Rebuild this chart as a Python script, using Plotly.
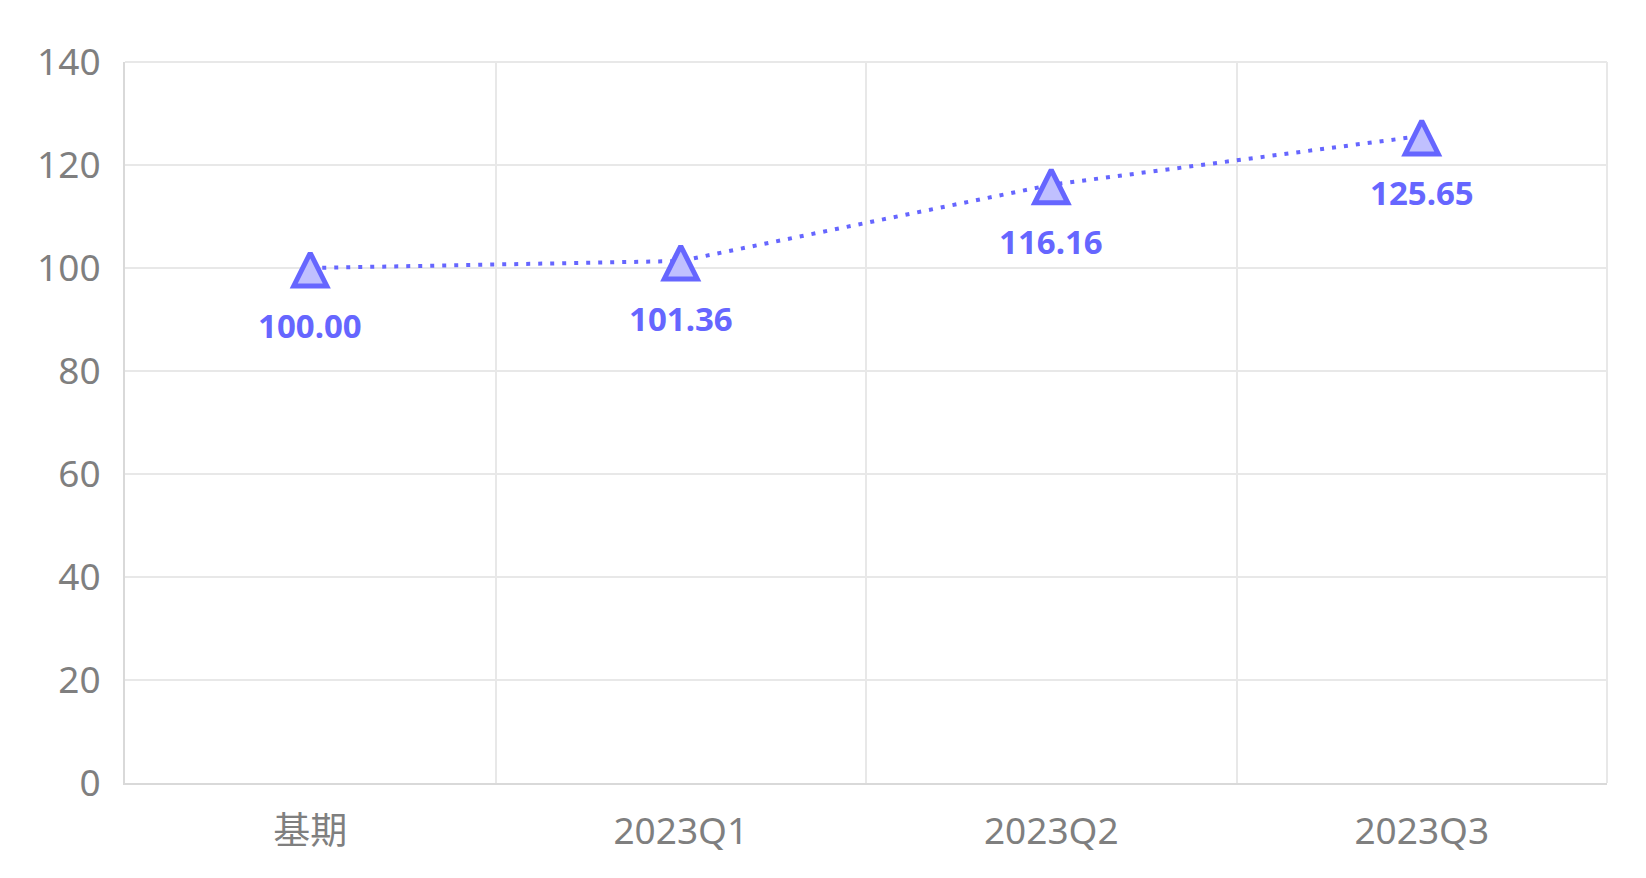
import plotly.graph_objects as go

categories = ["基期", "2023Q1", "2023Q2", "2023Q3"]
values = [100.00, 101.36, 116.16, 125.65]
labels = ["100.00", "101.36", "116.16", "125.65"]
y_ticks = [0, 20, 40, 60, 80, 100, 120, 140]

LINE = "#6666ff"
FILL = "#c0c0ff"
GRID = "#e8e8e8"
AXIS = "#d9d9d9"
TXT = "#7f7f7f"
FONT = "Noto Sans, Noto Sans CJK SC, sans-serif"

fig = go.Figure()
fig.add_trace(go.Scatter(
    x=categories, y=values, mode="lines",
    line=dict(color=LINE, width=4, dash="4px,8px"),
    hoverinfo="skip", showlegend=False,
))
fig.add_trace(go.Scatter(
    x=categories, y=values, mode="markers",
    marker=dict(symbol="arrow-down", size=33, color=FILL, angle=180, standoff=15,
                line=dict(color=LINE, width=5)),
    hoverinfo="x+y", showlegend=False,
))
for c, v, t in zip(categories, values, labels):
    fig.add_annotation(x=c, y=v, text=t, showarrow=False, yshift=-57,
                       font=dict(family=FONT, size=33, color=LINE, weight="bold"))

fig.add_shape(type="line", xref="paper", yref="paper", x0=0, x1=1, y0=1, y1=1,
              line=dict(color=GRID, width=2), layer="below")
fig.add_shape(type="line", xref="paper", yref="paper", x0=1, x1=1, y0=0, y1=1,
              line=dict(color=GRID, width=2), layer="below")

fig.update_layout(
    width=1638, height=870,
    margin=dict(l=117, r=39, t=54, b=95),
    paper_bgcolor="white", plot_bgcolor="white",
    font=dict(family=FONT, size=37, color=TXT),
)
fig.update_xaxes(
    type="category", range=[-0.5, 3.5], tickson="boundaries",
    showgrid=True, gridcolor=GRID, gridwidth=2,
    showline=True, linecolor=AXIS, linewidth=2,
    ticks="", ticklabelstandoff=15,
    tickfont=dict(family=FONT, size=37, color=TXT),
)
fig.update_yaxes(
    range=[0, 140], tickvals=y_ticks,
    showgrid=True, gridcolor=GRID, gridwidth=2,
    showline=True, linecolor=AXIS, linewidth=2,
    zeroline=False, ticks="", ticklabelstandoff=15,
    tickfont=dict(family=FONT, size=37, color=TXT),
)
fig.write_html("out.html")
